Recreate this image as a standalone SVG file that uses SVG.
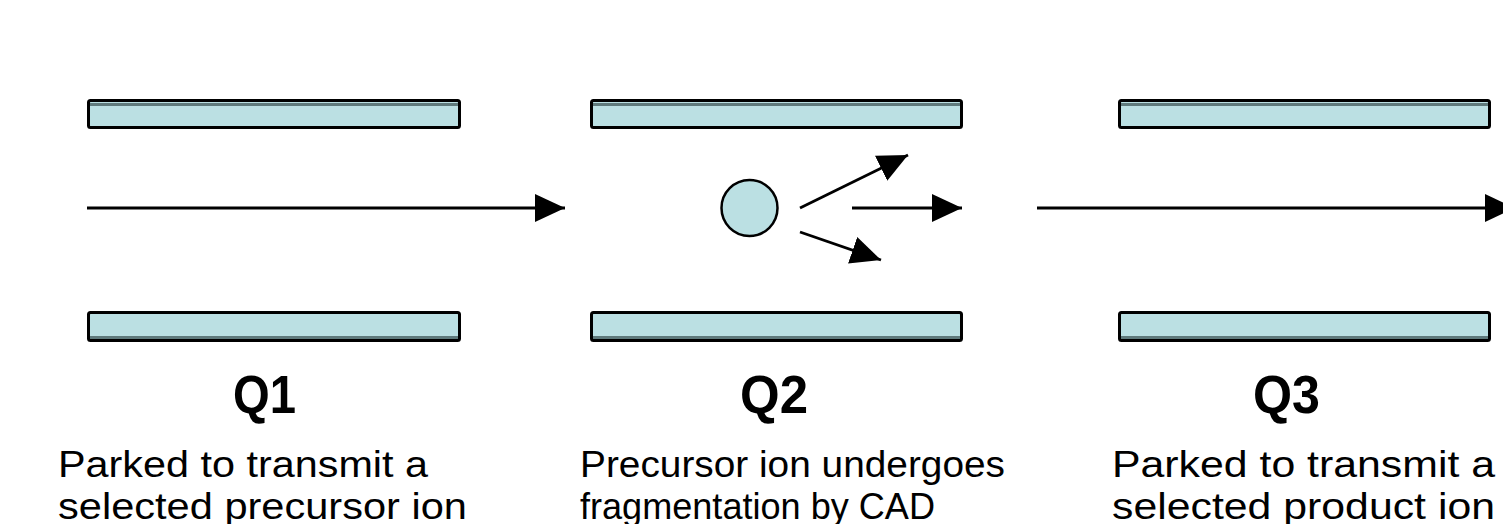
<svg xmlns="http://www.w3.org/2000/svg" width="1503" height="524" viewBox="0 0 1503 524">
  <style>
    .rod { fill: #bbe0e3; stroke: #000; stroke-width: 3; }
    .shade { stroke: #5f7a7c; stroke-width: 3; }
    .beam { stroke: #000; stroke-width: 2.8; fill: none; }
    .ion { fill: #bbe0e3; stroke: #000; stroke-width: 2.5; }
    .qlabel { font-family: "Liberation Sans", Arial, sans-serif; font-weight: bold; font-size: 54px; fill: #000; }
    .desc { font-family: "Liberation Sans", Arial, sans-serif; font-size: 37px; fill: #000; }
  </style>
  <defs>
    <marker id="head" viewBox="0 0 30 30" refX="30" refY="15" markerWidth="30" markerHeight="30" markerUnits="userSpaceOnUse" orient="auto">
      <path d="M0,1 L30,15 L0,29 Z" fill="#000"/>
    </marker>
  </defs>

  <rect width="1503" height="524" fill="#fff"/>

  <!-- Q1: first quadrupole, mass filter for the precursor -->
  <g id="q1">
    <rect class="rod" x="88.5" y="100.5" width="371" height="27" rx="2"/>
    <line class="shade" x1="90" y1="104.5" x2="458" y2="104.5"/>
    <rect class="rod" x="88.5" y="312.5" width="371" height="28" rx="2"/>
    <line class="shade" x1="90" y1="337.5" x2="458" y2="337.5"/>
    <text class="qlabel" x="233" y="413" textLength="63" lengthAdjust="spacingAndGlyphs">Q1</text>
    <text class="desc" x="58" y="477" textLength="370" lengthAdjust="spacingAndGlyphs">Parked to transmit a</text>
    <text class="desc" x="58" y="519" textLength="409" lengthAdjust="spacingAndGlyphs">selected precursor ion</text>
  </g>

  <!-- Q2: collision cell -->
  <g id="q2">
    <rect class="rod" x="591.5" y="100.5" width="370" height="27" rx="2"/>
    <line class="shade" x1="593" y1="104.5" x2="960" y2="104.5"/>
    <rect class="rod" x="591.5" y="312.5" width="370" height="28" rx="2"/>
    <line class="shade" x1="593" y1="337.5" x2="960" y2="337.5"/>
    <circle id="precursor" class="ion" cx="749.5" cy="208" r="28"/>
    <text class="qlabel" x="740" y="413" textLength="68" lengthAdjust="spacingAndGlyphs">Q2</text>
    <text class="desc" x="580" y="477" textLength="425" lengthAdjust="spacingAndGlyphs">Precursor ion undergoes</text>
    <text class="desc" x="580" y="519" textLength="355" lengthAdjust="spacingAndGlyphs">fragmentation by CAD</text>
  </g>

  <!-- Q3: second mass filter for the product ion -->
  <g id="q3">
    <rect class="rod" x="1119.5" y="100.5" width="370" height="27" rx="2"/>
    <line class="shade" x1="1121" y1="104.5" x2="1488" y2="104.5"/>
    <rect class="rod" x="1119.5" y="312.5" width="370" height="28" rx="2"/>
    <line class="shade" x1="1121" y1="337.5" x2="1488" y2="337.5"/>
    <text class="qlabel" x="1253" y="413" textLength="67" lengthAdjust="spacingAndGlyphs">Q3</text>
    <text class="desc" x="1112" y="477" textLength="383" lengthAdjust="spacingAndGlyphs">Parked to transmit a</text>
    <text class="desc" x="1112" y="519" textLength="383" lengthAdjust="spacingAndGlyphs">selected product ion</text>
  </g>

  <!-- ion paths -->
  <g id="connectors">
    <line class="beam" x1="87" y1="208" x2="565" y2="208" marker-end="url(#head)"/>
    <line class="beam" x1="800" y1="208" x2="908" y2="155" marker-end="url(#head)"/>
    <line class="beam" x1="852" y1="208" x2="962" y2="208" marker-end="url(#head)"/>
    <line class="beam" x1="800" y1="232" x2="881" y2="260" marker-end="url(#head)"/>
    <line class="beam" x1="1037" y1="208" x2="1515" y2="208" marker-end="url(#head)"/>
  </g>
</svg>
